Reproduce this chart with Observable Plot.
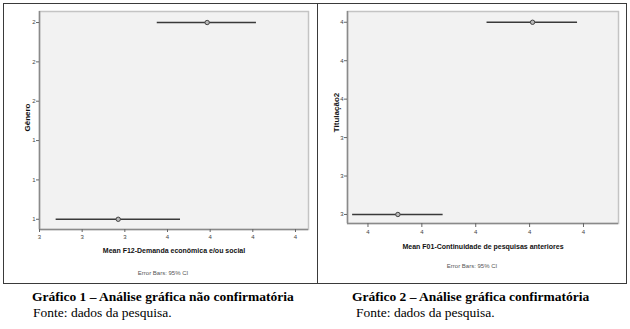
<!DOCTYPE html>
<html>
<head>
<meta charset="utf-8">
<script src="https://cdn.jsdelivr.net/npm/d3@7"></script>
<script src="https://cdn.jsdelivr.net/npm/@observablehq/plot@0.6"></script>
<style>
  html, body { margin: 0; padding: 0; background: #fff; }
  #wrap { position: relative; width: 630px; height: 329px; overflow: hidden; background: #fff; }
  .box { position: absolute; border: 1.5px solid #3a3a3a; box-sizing: border-box; }
  .panel { position: absolute; }
  .cap { position: absolute; font-family: "Liberation Serif", "Times New Roman", serif; font-size: 13.5px; color: #000; white-space: nowrap; line-height: 1; }
  .cap.b { font-weight: bold; }
</style>
</head>
<body>
<div id="wrap">
  <div class="box" style="left:3px; top:3px; width:315px; height:281px;"></div>
  <div class="box" style="left:317px; top:3px; width:310px; height:281px;"></div>
  <div id="p1" class="panel" style="left:4px; top:4px;"></div>
  <div id="p2" class="panel" style="left:318px; top:4px;"></div>
  <div class="cap b" style="left:32px; top:290px;">Gráfico 1 – Análise gráfica não confirmatória</div>
  <div class="cap" style="left:33px; top:306px;">Fonte: dados da pesquisa.</div>
  <div class="cap b" style="left:352px; top:290px;">Gráfico 2 – Análise gráfica confirmatória</div>
  <div class="cap" style="left:356px; top:306px;">Fonte: dados da pesquisa.</div>
</div>
<script>
// ---- Chart 1: Gênero vs Mean F12 ----
const genero = [1, 2];
const f12Mean = [3.369, 3.786];
const f12Low = [3.078, 3.552];
const f12High = [3.661, 4.017];
const xTicks1 = [3.0, 3.2, 3.4, 3.6, 3.8, 4.0, 4.2];
const xTickLabels1 = ["3", "3", "3", "4", "4", "4", "4"];
const yTicks1 = [1.0, 1.2, 1.4, 1.6, 1.8, 2.0];
const yTickLabels1 = ["1", "1", "1", "2", "2", "2"];

// ---- Chart 2: Titulação2 vs Mean F01 ----
const titulacao = [3, 4];
const f01Mean = [3.711, 4.211];
const f01Low = [3.543, 4.042];
const f01High = [3.879, 4.378];
const xTicks2 = [3.6, 3.8, 4.0, 4.2, 4.4];
const xTickLabels2 = ["4", "4", "4", "4", "4"];
const yTicks2 = [3.0, 3.2, 3.4, 3.6, 3.8, 4.0];
const yTickLabels2 = ["3", "3", "3", "4", "4", "4"];

const font = "Liberation Sans, Arial, sans-serif";

function makePanel(o) {
  const rows = o.cats.map((c, i) => ({cat: c, mean: o.mean[i], low: o.low[i], high: o.high[i]}));
  const fmt = (ticks, labels) => d => labels[ticks.findIndex(t => Math.abs(t - d) < 1e-9)];
  return Plot.plot({
    width: o.width, height: o.height,
    marginLeft: o.ml, marginRight: o.mr, marginTop: o.mt, marginBottom: o.mb,
    style: {fontFamily: font, background: "transparent", overflow: "visible"},
    x: {domain: o.xDomain},
    y: {domain: o.yDomain},
    marks: [
      Plot.frame({fill: "#f2f2f2", stroke: "#c4c4c4", strokeWidth: 1.5}),
      Plot.ruleX([o.xDomain[0]], {stroke: "#8a8a8a", strokeWidth: 1.5}),
      Plot.ruleY([o.yDomain[0]], {stroke: "#8a8a8a", strokeWidth: 1.5}),
      Plot.axisX({ticks: o.xTicks, tickFormat: fmt(o.xTicks, o.xLabels), tickSize: o.xTickSize, tickPadding: 2,
                  fontSize: 6, stroke: "#666", fill: "#444", label: null}),
      Plot.axisY({ticks: o.yTicks, tickFormat: fmt(o.yTicks, o.yLabels), tickSize: 3, tickPadding: 1,
                  fontSize: 6, stroke: "#666", fill: "#444", label: null}),
      Plot.ruleY(rows, {y: "cat", x1: "low", x2: "high", stroke: "#3a3a3a", strokeWidth: 1.5}),
      Plot.dot(rows, {x: "mean", y: "cat", r: 2.2, stroke: "#444", strokeWidth: 1, fill: "#b8b8b8"}),
      Plot.text([o.xTitle], {frameAnchor: "bottom", dy: o.xTitleDy, fontSize: 7, fontWeight: "bold", fill: "#111", lineAnchor: "middle"}),
      Plot.text(["Error Bars: 95% CI"], {frameAnchor: "bottom", dx: -11, dy: o.ebDy, fontSize: 6, fill: "#555", lineAnchor: "middle"}),
      Plot.text([o.yTitle], {frameAnchor: "left", dx: o.yTitleDx, dy: o.yTitleDy, rotate: -90, fontSize: 8, fontWeight: "bold", fill: "#111", lineAnchor: "middle", textAnchor: "middle"})
    ]
  });
}

document.getElementById("p1").appendChild(makePanel({
  width: 312, height: 278, ml: 35, mr: 8, mt: 7, mb: 53,
  cats: genero, mean: f12Mean, low: f12Low, high: f12High,
  xDomain: [3.0, 4.261], yDomain: [0.948, 2.056],
  xTicks: xTicks1, xLabels: xTickLabels1, yTicks: yTicks1, yLabels: yTickLabels1,
  xTickSize: 3,
  xTitle: "Mean F12-Demanda econômica e/ou social", xTitleDy: 21, ebDy: 44,
  yTitle: "Gênero", yTitleDx: -12, yTitleDy: -3
}));

document.getElementById("p2").appendChild(makePanel({
  width: 308, height: 278, ml: 29, mr: 8, mt: 7, mb: 59,
  cats: titulacao, mean: f01Mean, low: f01Low, high: f01High,
  xDomain: [3.524, 4.530], yDomain: [2.953, 4.056],
  xTicks: xTicks2, xLabels: xTickLabels2, yTicks: yTicks2, yLabels: yTickLabels2,
  xTickSize: 4,
  xTitle: "Mean F01-Continuidade de pesquisas anteriores", xTitleDy: 23, ebDy: 43,
  yTitle: "Titulação2", yTitleDx: -11, yTitleDy: -5
}));
</script>
</body>
</html>
